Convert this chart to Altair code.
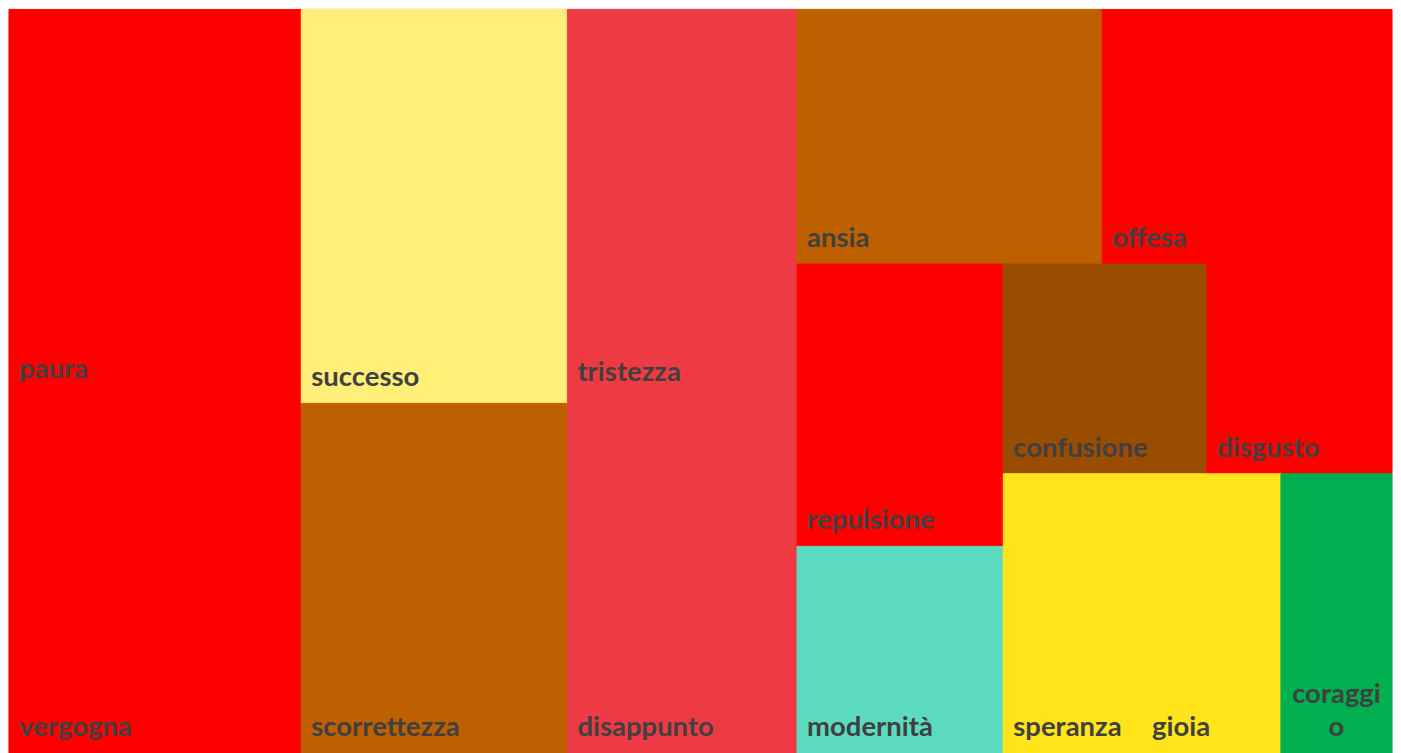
import altair as alt
import pandas as pd

# ---- data ----
labels = ["paura", "vergogna", "successo", "scorrettezza", "tristezza", "disappunto",
          "ansia", "offesa", "repulsione", "modernità", "confusione", "disgusto",
          "speranza", "gioia", "coraggio"]
values = [29, 27, 27, 24, 23, 21, 20, 19, 15, 11, 11, 10, 10, 10, 8]
colors = ["#FF0000", "#FF0000", "#FFEF78", "#BF6000", "#EE3B43", "#EE3B43",
          "#BF6000", "#FF0000", "#FF0000", "#5DDBC1", "#9A4C00", "#FF0000",
          "#FFE41A", "#FFE41A", "#00AF50"]
# label as shown (coraggio wraps in its narrow tile)
shown = {"coraggio": "coraggi\no"}

# strip structure of the treemap (orientation + members)
strips = [("col", ["paura", "vergogna"]),
          ("col", ["successo", "scorrettezza"]),
          ("col", ["tristezza", "disappunto"]),
          ("row", ["ansia", "offesa"]),
          ("col", ["repulsione", "modernità"]),
          ("row", ["confusione", "disgusto"]),
          ("row", ["speranza", "gioia", "coraggio"])]

val = dict(zip(labels, values))

# ---- slice layout computed from the values ----
rows = []
x0, y0, w, h = 0.0, 0.0, 1.0, 1.0
remaining = float(sum(values))
for orient, names in strips:
    s = float(sum(val[n] for n in names))
    frac = s / remaining
    if orient == "col":
        sw = w * frac
        yy = y0
        for n in names:
            hh = h * val[n] / s
            rows.append((n, x0, x0 + sw, yy, yy + hh))
            yy += hh
        x0 += sw
        w -= sw
    else:
        sh = h * frac
        xx = x0
        for n in names:
            ww = w * val[n] / s
            rows.append((n, xx, xx + ww, y0, y0 + sh))
            xx += ww
        y0 += sh
        h -= sh
    remaining -= s

df = pd.DataFrame(rows, columns=["label", "x0", "x1", "y0", "y1"])
df["value"] = df["label"].map(val)
df["shown"] = df["label"].map(lambda n: shown.get(n, n))
df["xc"] = (df["x0"] + df["x1"]) / 2
df["centered"] = df["label"].isin(list(shown.keys()))

xs = alt.Scale(domain=[0, 1], nice=False, zero=False)
ys = alt.Scale(domain=[0, 1], nice=False, zero=False, reverse=True)
cs = alt.Scale(domain=labels, range=colors)

base = alt.Chart(df)

rects = base.mark_rect(strokeWidth=1).encode(
    x=alt.X("x0:Q", scale=xs, axis=None),
    x2="x1:Q",
    y=alt.Y("y0:Q", scale=ys, axis=None),
    y2="y1:Q",
    color=alt.Color("label:N", scale=cs, legend=None),
    stroke=alt.Stroke("label:N", scale=cs, legend=None),
    tooltip=["label:N", "value:Q"],
)

text_style = dict(font="Lato", fontSize=27.5, fontWeight="bold", color="#404040",
                  lineBreak="\n", lineHeight=34, baseline="bottom")

left_labels = base.transform_filter("!datum.centered").mark_text(
    align="left", dx=10, dy=-11, **text_style
).encode(
    x=alt.X("x0:Q", scale=xs, axis=None),
    y=alt.Y("y1:Q", scale=ys, axis=None),
    text="shown:N",
)

center_labels = base.transform_filter("datum.centered").mark_text(
    align="center", dx=0, dy=-45, **text_style
).encode(
    x=alt.X("xc:Q", scale=xs, axis=None),
    y=alt.Y("y1:Q", scale=ys, axis=None),
    text="shown:N",
)

chart = alt.layer(rects, left_labels, center_labels).properties(
    width=1385, height=745, padding=0, background="#f2f2f2"
).configure_view(stroke=None)

chart.save("out.html", embed_options={"renderer": "svg", "actions": False})
